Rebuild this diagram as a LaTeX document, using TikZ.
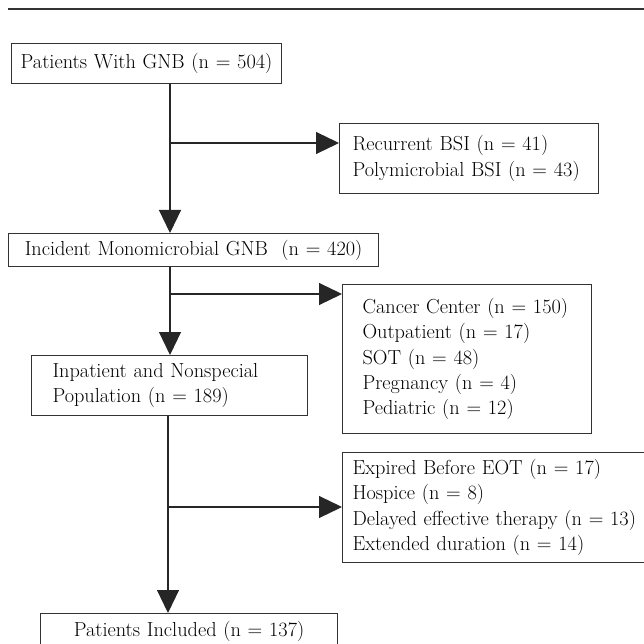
\documentclass[tikz,border=0pt]{standalone}
\usetikzlibrary{arrows.meta}
\begin{document}
\begin{tikzpicture}
[x=1pt,y=-1pt,
  boxdecorate/.style={draw=black!80,line width=1.1pt,rectangle,anchor=north west,
    inner ysep=0pt,text=black,font=\fontsize{20.3}{25.3}\selectfont},
  arrowdecorate/.style={-{Triangle[length=23pt,width=22pt]},draw=black!85,line width=1.1pt}]
\clip (0,0) rectangle (644,644);
%% rule on top
\draw[black!80,line width=1.2pt] (8,9) -- (650,9);
%% boxes
\node (start) at (11,43) [boxdecorate,minimum height=40pt,inner xsep=4pt,
  text width=262pt,align=center] {Patients With GNB (n = 504)};
\node (recur) at (339,123) [boxdecorate,minimum height=70pt,inner xsep=13pt,
  text width=233pt,align=left] {Recurrent BSI (n = 41)\\Polymicrobial BSI (n = 43)};
\node (mono) at (8,233) [boxdecorate,minimum height=33pt,inner xsep=4pt,
  text width=362pt,align=center] {Incident Monomicrobial GNB\ \ (n = 420)};
\node (special) at (342,284) [boxdecorate,minimum height=149pt,inner xsep=20pt,
  text width=209pt,align=left] {Cancer Center (n = 150)\\Outpatient (n = 17)\\
  SOT (n = 48)\\Pregnancy (n = 4)\\Pediatric (n = 12)};
\node (inpat) at (31,355) [boxdecorate,minimum height=60pt,inner xsep=21pt,
  text width=234pt,align=left] {Inpatient and Nonspecial\\Population (n = 189)};
\node (expired) at (342,452) [boxdecorate,minimum height=110pt,inner xsep=10pt,
  text width=290pt,align=left] {Expired Before EOT (n = 17)\\Hospice (n = 8)\\
  Delayed effective therapy (n = 13)\\Extended duration (n = 14)};
\node (incl) at (40,613) [boxdecorate,minimum height=36pt,inner xsep=4pt,
  text width=289pt,align=center] {Patients Included (n = 137)};
%% junctions on the main line
\coordinate (j1) at (170,143);
\coordinate (j2) at (170,294);
\coordinate (j3) at (168,507);
%% edges
\path
\foreach \junction/\upper/\lower/\side in {
  j1/start/mono/recur, j2/mono/inpat/special, j3/inpat/incl/expired} {
  (\junction |- \upper.south) edge[arrowdecorate] (\junction |- \lower.north)
  (\junction) edge[arrowdecorate] (\junction -| \side.west)
};
\end{tikzpicture}
\end{document}
